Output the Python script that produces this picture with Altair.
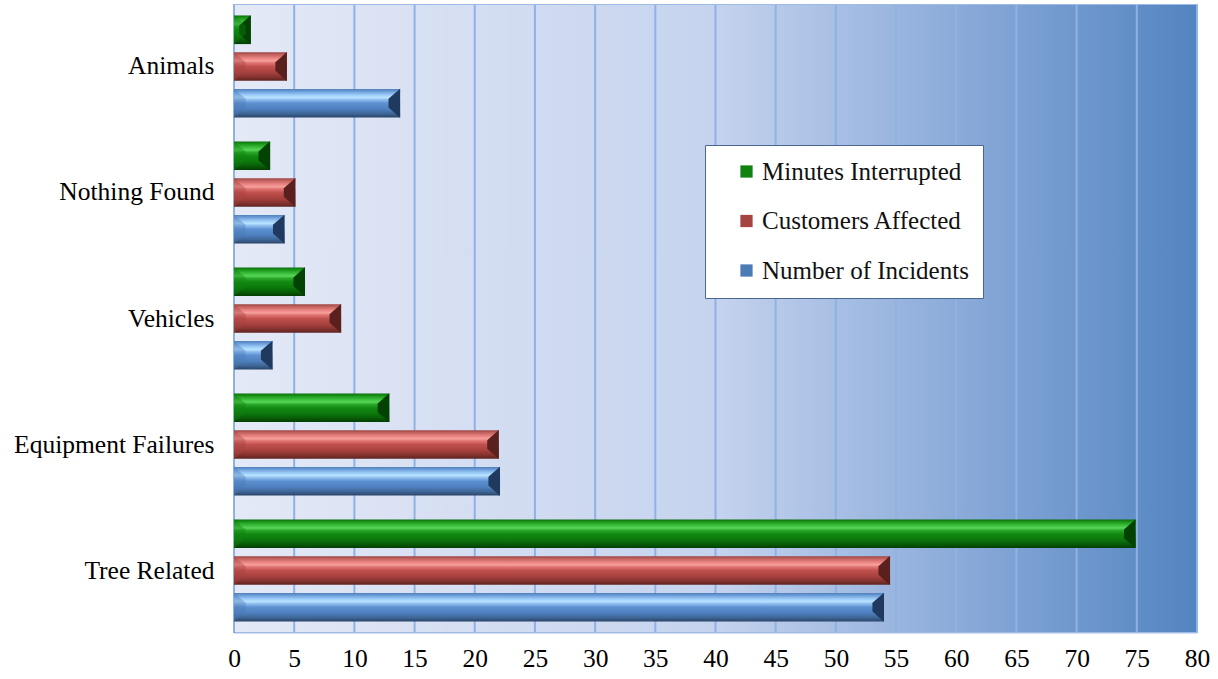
import altair as alt
import pandas as pd

# Outage causes and their share (%) for each measure
categories = ["Tree Related", "Equipment Failures", "Vehicles", "Nothing Found", "Animals"]
minutes_interrupted = [74.9, 12.9, 5.9, 3.0, 1.4]
customers_affected = [54.5, 22.0, 8.9, 5.1, 4.4]
number_of_incidents = [54.0, 22.1, 3.2, 4.2, 13.8]

series_names = ["Minutes Interrupted", "Customers Affected", "Number of Incidents"]
series_values = [minutes_interrupted, customers_affected, number_of_incidents]
x_ticks = list(range(0, 85, 5))

rows = []
for name, vals in zip(series_names, series_values):
    for cat, v in zip(categories, vals):
        rows.append({"cause": cat, "series": name, "value": v})
df = pd.DataFrame(rows)
ticks_df = pd.DataFrame({"t": x_ticks})

W, H = 963, 627
FONT = "'Times New Roman', 'Liberation Serif', serif"
cause_order = list(reversed(categories))

x_scale = alt.Scale(domain=[0, 80], nice=False, zero=True)
y_enc = alt.Y("cause:N", sort=cause_order,
              scale=alt.Scale(domain=cause_order, paddingInner=0.19, paddingOuter=0.083),
              axis=alt.Axis(title=None, ticks=False, labelFont=FONT, labelFontSize=25.5,
                            labelColor="#000000", labelPadding=20, domainColor="#5a8ad0",
                            domainWidth=2, labelLimit=400))
yoff_enc = alt.YOffset("series:N", sort=series_names,
                       scale=alt.Scale(domain=series_names, paddingInner=0.22, paddingOuter=0))


def vgrad(stops):
    return alt.LinearGradient(gradient="linear", x1=0, y1=0, x2=0, y2=1,
                              stops=[alt.GradientStop(offset=o, color=c) for o, c in stops])


bar_fills = {
    "Minutes Interrupted": [(0, "#0a6e0a"), (0.08, "#1a941a"), (0.22, "#3fc23f"), (0.3, "#58d658"),
                            (0.38, "#2aa82a"), (0.5, "#128a12"), (0.7, "#0c780c"), (0.86, "#075c07"),
                            (1, "#043d04")],
    "Customers Affected": [(0, "#9a4341"), (0.08, "#c0605d"), (0.22, "#ec8784"), (0.3, "#f7a09d"),
                           (0.38, "#e07370"), (0.5, "#c0504d"), (0.7, "#a8423f"), (0.86, "#86332f"),
                           (1, "#5e2422")],
    "Number of Incidents": [(0, "#4f7fb8"), (0.08, "#6a9ad6"), (0.22, "#9fd0fa"), (0.3, "#b9e2ff"),
                            (0.38, "#8fbdf0"), (0.5, "#5d90d0"), (0.7, "#4f80bf"), (0.86, "#3f6797"),
                            (1, "#2a4468")],
}
cap_colors = {"Minutes Interrupted": "#034203",
              "Customers Affected": "#5a201e",
              "Number of Incidents": "#1f3a5e"}
legend_colors = ["#118211", "#a54441", "#4c7bb6"]

base = alt.Chart(df)

background = alt.Chart(pd.DataFrame({"a": [0], "b": [80]})).mark_rect(
    color=alt.LinearGradient(
        gradient="linear", x1=0, y1=0, x2=1, y2=0,
        stops=[alt.GradientStop(offset=0, color="#e4e9f6"),
               alt.GradientStop(offset=0.5, color="#c5d3ee"),
               alt.GradientStop(offset=0.62, color="#a9c0e4"),
               alt.GradientStop(offset=0.8, color="#80a3d5"),
               alt.GradientStop(offset=1, color="#5384c0")])
).encode(x=alt.X("a:Q", scale=x_scale), x2="b:Q")

grid = alt.Chart(ticks_df).mark_rule(color="#8fb2e5", strokeWidth=2).encode(
    x=alt.X("t:Q", scale=x_scale,
            axis=alt.Axis(title=None, values=x_ticks, ticks=False, grid=False,
                          labelFlush=False, labelOverlap=False,
                          labelFont=FONT, labelFontSize=25.5, labelColor="#000000",
                          labelPadding=14, domainColor="#9dbbe6", domainWidth=2))
)

layers = [background, grid]
cap_shape = "M 0 -1 L 0 1 L -0.8 0.3 L -0.8 -0.3 Z"
lip_shape = "M 0 -1 L 0.8 -0.3 L 0.8 0.3 L 0 1 Z"
for name in series_names:
    sub = base.transform_filter(alt.datum.series == name)
    layers.append(sub.mark_bar(color=vgrad(bar_fills[name])).encode(
        x=alt.X("value:Q", scale=x_scale), y=y_enc, yOffset=yoff_enc))
    layers.append(sub.mark_point(shape=cap_shape, filled=True, size=841, opacity=1,
                                 color=cap_colors[name], strokeWidth=0).encode(
        x=alt.X("value:Q", scale=x_scale), y=y_enc, yOffset=yoff_enc))

# lighter bevel at the base of each bar, carrying the legend
lips = base.transform_calculate(zero="0").mark_point(
    shape=lip_shape, filled=True, size=841, opacity=0.4, strokeWidth=0).encode(
    x=alt.X("zero:Q", scale=x_scale), y=y_enc, yOffset=yoff_enc,
    color=alt.Color("series:N", sort=series_names,
                    scale=alt.Scale(domain=series_names, range=legend_colors),
                    legend=alt.Legend(title=None,
                                      orient="none", legendX=471, legendY=140,
                                      symbolType="square", symbolSize=150, symbolOpacity=1,
                                      symbolStrokeWidth=0,
                                      labelFont=FONT, labelFontSize=25, labelColor="#111111",
                                      labelLimit=500,
                                      rowPadding=23.5, padding=14, symbolOffset=15,
                                      labelOffset=3,
                                      fillColor="#ffffff", strokeColor="#4a6794")))
layers.append(lips)

chart = alt.layer(*layers).properties(
    width=W, height=H,
    autosize=alt.AutoSizeParams(type="none"),
    padding={"left": 234, "top": 5, "right": 21, "bottom": 47},
    background="#ffffff",
).configure_view(stroke="#9dbbe6", strokeWidth=2)

chart.save("out.html", embed_options={"renderer": "svg", "actions": False})
